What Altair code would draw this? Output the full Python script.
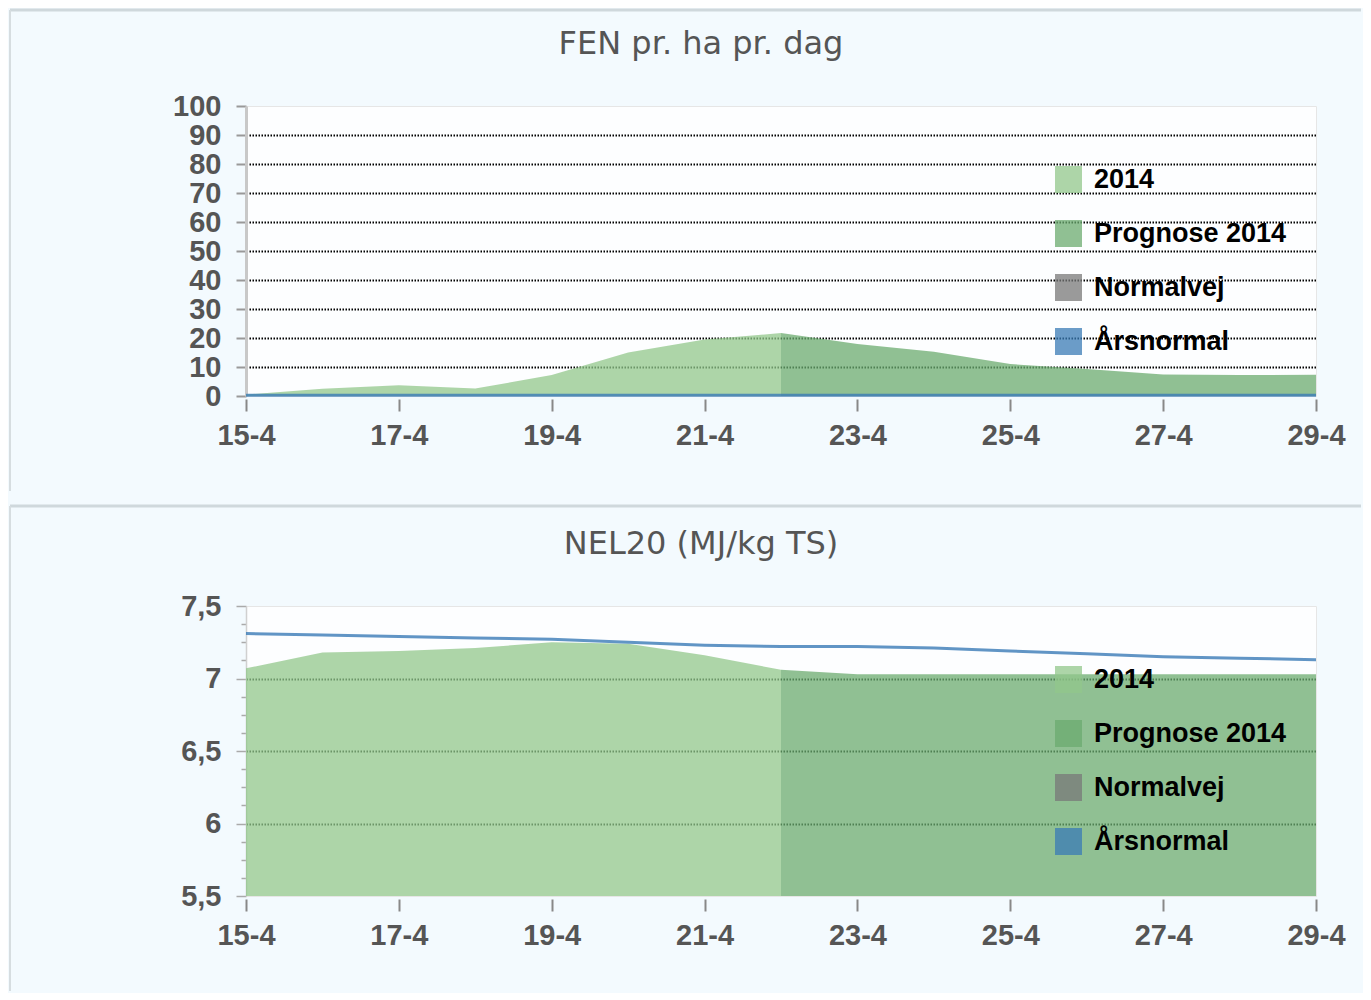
import altair as alt
import pandas as pd

# ---------------- data ----------------
series_names = ["2014", "Prognose 2014", "Normalvej", "Årsnormal"]
series_colors = ["#91c78b", "#6bab6f", "#787878", "#397bb6"]

x_ticks = [15, 17, 19, 21, 23, 25, 27, 29]

obs_days = [15, 16, 17, 18, 19, 20, 21, 22]
prog_days = [22, 23, 24, 25, 26, 27, 28, 29]
all_days = [15, 16, 17, 18, 19, 20, 21, 22, 23, 24, 25, 26, 27, 28, 29]

fen_2014 = [0.5, 2.5, 3.7, 2.6, 7.2, 15.0, 19.5, 21.7]
fen_prog = [21.7, 17.9, 15.3, 11.0, 9.3, 7.4, 7.2, 7.3]
fen_aars = [0.3, 0.3, 0.3, 0.3, 0.3, 0.3, 0.3, 0.3, 0.3, 0.3, 0.3, 0.3, 0.3, 0.3, 0.3]

nel_2014 = [7.07, 7.18, 7.19, 7.21, 7.25, 7.24, 7.16, 7.06]
nel_prog = [7.06, 7.03, 7.03, 7.03, 7.03, 7.03, 7.03, 7.03]
nel_aars = [7.31, 7.30, 7.29, 7.28, 7.27, 7.25, 7.23, 7.22, 7.22, 7.21, 7.19, 7.17, 7.15, 7.14, 7.13]

fen_ticks = [0, 10, 20, 30, 40, 50, 60, 70, 80, 90, 100]
nel_ticks = [5.5, 5.625, 5.75, 5.875, 6.0, 6.125, 6.25, 6.375, 6.5, 6.625, 6.75, 6.875,
             7.0, 7.125, 7.25, 7.375, 7.5]


def long_df(obs, prog):
    rows = []
    for d, v in zip(obs_days, obs):
        rows.append({"day": d, "value": v, "series": "2014"})
    for d, v in zip(prog_days, prog):
        rows.append({"day": d, "value": v, "series": "Prognose 2014"})
    return pd.DataFrame(rows)


def line_df(vals):
    return pd.DataFrame({"day": all_days, "value": vals, "series": ["Årsnormal"] * len(all_days)})


LABEL_FONT = "Liberation Sans"
TITLE_FONT = "DejaVu Sans"
GREY = "#555555"

color_scale = alt.Scale(domain=series_names, range=series_colors)

legend = alt.Legend(
    orient="none", legendX=809, legendY=60, title=None,
    symbolType="square", symbolSize=729, symbolStrokeWidth=0, symbolOpacity=0.75,
    labelFont=LABEL_FONT, labelFontWeight="bold", labelFontSize=27, labelColor="#000000",
    labelOffset=12, rowPadding=26, padding=0, labelLimit=400,
)

x_enc = alt.X(
    "day:Q",
    scale=alt.Scale(domain=[15, 29], nice=False, zero=False),
    axis=alt.Axis(
        values=x_ticks, title=None, labelExpr="datum.value + '-4'",
        labelFont=LABEL_FONT, labelFontWeight="bold", labelFontSize=29, labelColor=GREY,
        tickSize=12, tickColor="#888888", tickWidth=2, offset=3, domain=False, grid=False,
        labelPadding=10, labelFlush=False, labelOverlap=False,
    ),
)


def panel(title, area_data, line_data, y_scale, y_axis, deco_top, title_offset):
    area = alt.Chart(area_data).mark_area(opacity=0.75).encode(
        x=x_enc,
        y=alt.Y("value:Q", scale=y_scale, axis=y_axis, stack=None),
        color=alt.Color("series:N", scale=color_scale, legend=legend),
        detail="series:N",
    )
    line = alt.Chart(line_data).mark_line(strokeWidth=3, opacity=0.8).encode(
        x=x_enc,
        y=alt.Y("value:Q", scale=y_scale, axis=y_axis, stack=None),
        color=alt.Color("series:N", scale=color_scale, legend=legend),
    )
    deco = pd.DataFrame({"d": [0]})
    hrule = alt.Chart(deco).mark_rule(color="#cfd8dc", strokeWidth=3).encode(
        x=alt.value(-236), x2=alt.value(1115), y=alt.value(deco_top)
    )
    vrule = alt.Chart(deco).mark_rule(color="#d6dde0", strokeWidth=2).encode(
        x=alt.value(-236), y=alt.value(deco_top), y2=alt.value(385)
    )
    return alt.layer(hrule, vrule, area, line).properties(
        width=1070, height=290,
        title=alt.TitleParams(
            title, font=TITLE_FONT, fontSize=32, fontWeight="normal", color=GREY,
            anchor="middle", dx=-80, offset=title_offset,
        ),
    )


top_axis = alt.Axis(
    values=fen_ticks, title=None,
    labelFont=LABEL_FONT, labelFontWeight="bold", labelFontSize=29, labelColor=GREY,
    tickSize=10, tickColor="#999999", tickWidth=2,
    domainColor="#c8c8c8", domainWidth=3,
    gridColor="#000000", gridDash=[1.5, 1.5], gridWidth=1.8,
    gridOpacity={"condition": {"test": "datum.value > 0 && datum.value < 100", "value": 1}, "value": 0},
    labelPadding=15, labelOverlap=False, labelFlush=False,
)

bottom_axis = alt.Axis(
    values=nel_ticks, title=None,
    labelExpr="datum.value % 0.5 == 0 ? replace(format(datum.value, '.1~f'), '.', ',') : ''",
    labelFont=LABEL_FONT, labelFontWeight="bold", labelFontSize=29, labelColor=GREY,
    tickSize={"condition": {"test": "datum.value % 0.5 == 0", "value": 10}, "value": 5},
    tickColor="#aaaaaa", tickWidth=1.5,
    domainColor="#d0d0d0", domainWidth=1.5,
    gridColor="#000000", gridDash=[1.5, 1.5], gridWidth=1.8,
    gridOpacity={"condition": {"test": "datum.value % 0.5 == 0 && datum.value > 5.5 && datum.value < 7.5",
                               "value": 1}, "value": 0},
    labelPadding=15, labelOverlap=False, labelFlush=False,
)

top = panel(
    "FEN pr. ha pr. dag", long_df(fen_2014, fen_prog), line_df(fen_aars),
    alt.Scale(domain=[0, 100], nice=False), top_axis, -96, -52,
)
bottom = panel(
    "NEL20 (MJ/kg TS)", long_df(nel_2014, nel_prog), line_df(nel_aars),
    alt.Scale(domain=[5.5, 7.5], nice=False, zero=False), bottom_axis, -100, -56,
)

chart = alt.vconcat(top, bottom, spacing=210, bounds="flush").resolve_scale(
    color="independent", x="independent", y="independent"
).resolve_legend(
    color="independent"
).properties(
    background="#f3fafe",
    padding={"left": 0, "top": 0, "right": 0, "bottom": 0},
).configure_view(
    fill="#fdfeff", stroke="#e6e6e6", strokeWidth=1
)

chart.save("out.html", embed_options={"renderer": "svg", "actions": False})
